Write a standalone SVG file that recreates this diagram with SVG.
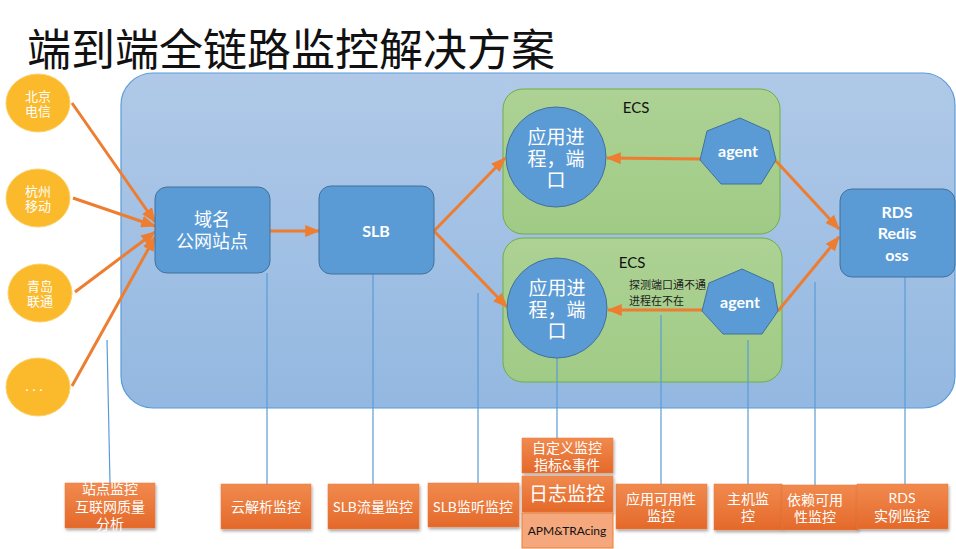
<svg xmlns="http://www.w3.org/2000/svg" width="956" height="549" viewBox="0 0 956 549">
<defs>
<linearGradient id="gBig" x1="0" y1="0" x2="0" y2="1"><stop offset="0" stop-color="#B0C9E8"/><stop offset="1" stop-color="#93B8E1"/></linearGradient>
<linearGradient id="gGreen" x1="0" y1="0" x2="0" y2="1"><stop offset="0" stop-color="#ADD294"/><stop offset="1" stop-color="#A0CB86"/></linearGradient>
<linearGradient id="gOr" x1="0" y1="0" x2="0" y2="1"><stop offset="0" stop-color="#F18A4E"/><stop offset="1" stop-color="#E4692A"/></linearGradient>
<filter id="sh" x="-10%" y="-10%" width="125%" height="135%"><feDropShadow dx="1" dy="2" stdDeviation="1.5" flood-color="#000" flood-opacity="0.35"/></filter>
<marker id="ar" markerWidth="5" markerHeight="4" refX="4.6" refY="2" orient="auto" markerUnits="strokeWidth"><path d="M0,0 L5,2 L0,4 z" fill="#ED7D31"/></marker>
<style>
.t{font-family:Lato,"Noto Sans CJK SC",sans-serif;text-anchor:middle}
.w{fill:#fff}
.node{fill:#5B9BD5;stroke:#41719C;stroke-width:1}
.oc{fill:#FABA2C;stroke:#FCD06A;stroke-width:1}
.ecs{fill:url(#gGreen);stroke:#70AD47;stroke-width:1}
.lab{fill:url(#gOr);stroke:#E87A3C;stroke-width:0.5;filter:url(#sh)}
.ar{stroke:#ED7D31;stroke-width:3;fill:none;marker-end:url(#ar)}
.vl{stroke:#5B9BD5;stroke-width:1.2;fill:none}
</style>
</defs>
<rect width="956" height="549" fill="#fff"/>
<text x="27" y="66" font-family="'Noto Sans CJK SC',sans-serif" font-size="44" fill="#111">端到端全链路监控解决方案</text>

<g id="container"><rect x="121" y="73" width="834" height="335" rx="32" fill="url(#gBig)" stroke="#5B9BD5" stroke-width="1.2"/></g>
<g id="ecs1"><rect class="ecs" x="503" y="89" width="277" height="145" rx="20"/><text class="t" x="636" y="113" font-size="15" fill="#111">ECS</text></g>
<g id="ecs2"><rect class="ecs" x="503" y="238" width="279" height="144" rx="20"/><text class="t" x="632" y="268" font-size="15" fill="#111">ECS</text></g>

<g id="connectors">
<path class="vl" d="M107,340 L110,483"/>
<path class="vl" d="M267,273 L267,484"/>
<path class="vl" d="M373,274 L373,484"/>
<path class="vl" d="M478,293 L478,483"/>
<path class="vl" d="M557,358 L557,438"/>
<path class="vl" d="M661,315 L661,484"/>
<path class="vl" d="M748,340 L748,484"/>
<path class="vl" d="M815,282 L815,485"/>
<path class="vl" d="M905,277 L905,484"/>
<path class="ar" d="M72,103 L155,222"/>
<path class="ar" d="M73,198 L155,226"/>
<path class="ar" d="M75,292 L155,232"/>
<path class="ar" d="M72,386 L155,237"/>
<path class="ar" d="M270,231 L319,231"/>
<path class="ar" d="M434,231 L505,158"/>
<path class="ar" d="M434,231 L507,307"/>
<path class="ar" d="M700,159 L607,158"/>
<path class="ar" d="M702,310 L608,310"/>
<path class="ar" d="M776,161 L839,229"/>
<path class="ar" d="M778,311 L839,237"/>
</g>

<g id="bj"><ellipse class="oc" cx="38" cy="103" rx="32" ry="29"/><text class="t w" x="38" y="101" font-size="13">北京</text><text class="t w" x="38" y="116" font-size="13">电信</text></g>
<g id="hz"><ellipse class="oc" cx="38" cy="198" rx="32" ry="29"/><text class="t w" x="38" y="196" font-size="13">杭州</text><text class="t w" x="38" y="211" font-size="13">移动</text></g>
<g id="qd"><ellipse class="oc" cx="40" cy="293" rx="32" ry="29"/><text class="t w" x="40" y="291" font-size="13">青岛</text><text class="t w" x="40" y="306" font-size="13">联通</text></g>
<g id="more"><ellipse class="oc" cx="38" cy="387" rx="32" ry="29"/><text class="t w" x="36" y="391" font-size="13" letter-spacing="4">...</text></g>

<g id="domain"><rect class="node" x="155" y="187" width="115" height="86" rx="12"/><text class="t w" x="212" y="226" font-size="18">域名</text><text class="t w" x="212" y="248" font-size="18">公网站点</text></g>
<g id="slb"><rect class="node" x="319" y="186" width="115" height="88" rx="12"/><text class="t w" x="376" y="237" font-size="16" font-weight="bold">SLB</text></g>
<g id="app1"><circle class="node" cx="556" cy="157" r="50"/><text class="t w" x="556" y="144" font-size="19">应用进</text><text class="t w" x="556" y="166" font-size="19">程，端</text><text class="t w" x="556" y="187" font-size="19">口</text></g>
<g id="app2"><circle class="node" cx="557" cy="308" r="50"/><text class="t w" x="557" y="295" font-size="19">应用进</text><text class="t w" x="557" y="317" font-size="19">程，端</text><text class="t w" x="557" y="338" font-size="19">口</text></g>
<g id="probe"><text x="629" y="289" font-family="'Noto Sans CJK SC',sans-serif" font-size="11" fill="#222">探测端口通不通，</text><text x="629" y="305" font-family="'Noto Sans CJK SC',sans-serif" font-size="11" fill="#222">进程在不在</text></g>
<g id="agent1"><polygon class="node" points="740,118 769,131 776,160 761,184 721,184 700,160 707,131"/><text class="t w" x="738" y="157" font-size="16" font-weight="bold">agent</text></g>
<g id="agent2"><polygon class="node" points="742,269 773,283 778,311 762,334 723,334 702,311 709,283"/><text class="t w" x="740" y="308" font-size="16" font-weight="bold">agent</text></g>
<g id="rds"><rect class="node" x="840" y="189" width="115" height="88" rx="12"/><text class="t w" x="897" y="218" font-size="16" font-weight="bold">RDS</text><text class="t w" x="897" y="239" font-size="16" font-weight="bold">Redis</text><text class="t w" x="897" y="261" font-size="16" font-weight="bold">oss</text></g>

<g id="l1"><rect class="lab" x="65" y="483" width="90" height="45"/><text class="t w" x="110" y="494" font-size="14">站点监控</text><text class="t w" x="110" y="512" font-size="14">互联网质量</text><text class="t w" x="110" y="529" font-size="14">分析</text></g>
<g id="l2"><rect class="lab" x="221" y="484" width="90" height="45"/><text class="t w" x="266" y="512" font-size="14">云解析监控</text></g>
<g id="l3"><rect class="lab" x="328" y="484" width="91" height="45"/><text class="t w" x="373" y="512" font-size="14">SLB流量监控</text></g>
<g id="l4"><rect class="lab" x="428" y="483" width="91" height="44"/><text class="t w" x="473" y="512" font-size="14">SLB监听监控</text></g>
<g id="l5"><rect class="lab" x="522" y="438" width="91" height="35"/><text class="t w" x="567" y="453" font-size="14">自定义监控</text><text class="t w" x="567" y="470" font-size="14">指标&amp;事件</text></g>
<g id="l6"><rect class="lab" x="522" y="476" width="91" height="36"/><text class="t w" x="567" y="501" font-size="19">日志监控</text></g>
<g id="l7"><rect x="522" y="513" width="91" height="35" fill="#F5A87D" stroke="#ED7D31" stroke-width="1"/><text class="t" x="567" y="535" font-size="12" fill="#111">APM&amp;TRAcing</text></g>
<g id="l8"><rect class="lab" x="616" y="484" width="91" height="45"/><text class="t w" x="661" y="504" font-size="14">应用可用性</text><text class="t w" x="661" y="521" font-size="14">监控</text></g>
<g id="l9"><rect class="lab" x="714" y="484" width="68" height="46"/><text class="t w" x="748" y="504" font-size="14">主机监</text><text class="t w" x="748" y="521" font-size="14">控</text></g>
<g id="l10"><rect class="lab" x="782" y="485" width="76" height="45"/><text class="t w" x="815" y="505" font-size="14">依赖可用</text><text class="t w" x="815" y="522" font-size="14">性监控</text></g>
<g id="l11"><rect class="lab" x="857" y="484" width="91" height="45"/><text class="t w" x="902" y="503" font-size="14">RDS</text><text class="t w" x="902" y="521" font-size="14">实例监控</text></g>
</svg>
